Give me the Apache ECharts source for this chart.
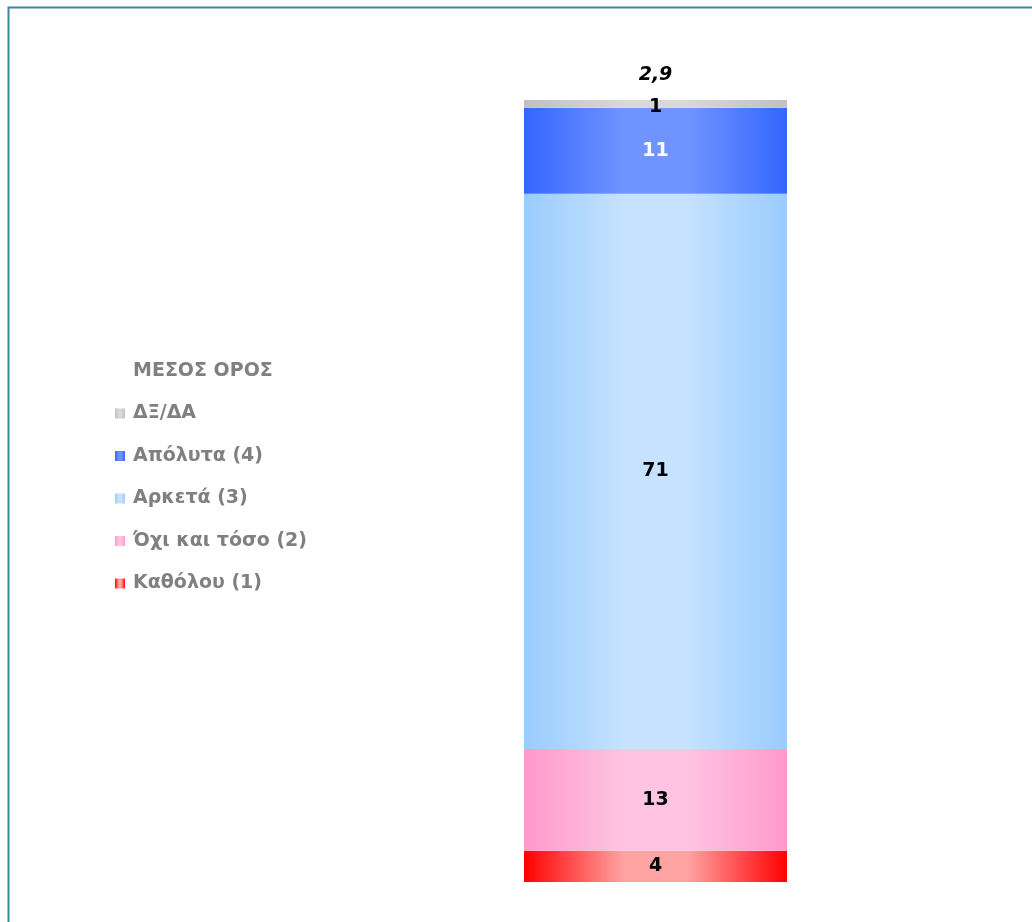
<!DOCTYPE html>
<html>
<head>
<meta charset="utf-8">
<script src="https://cdn.jsdelivr.net/npm/echarts@6/dist/echarts.min.js"></script>
<style>
html,body{margin:0;padding:0;background:#fff;}
#c{width:1032px;height:922px;}
</style>
</head>
<body>
<div id="c"></div>
<script>
const categories = ['Σύνολο'];
const seriesNames = ['Καθόλου (1)', 'Όχι και τόσο (2)', 'Αρκετά (3)', 'Απόλυτα (4)', 'ΔΞ/ΔΑ'];
const values = [[4], [13], [71], [11], [1]];
const meanName = 'ΜΕΣΟΣ ΟΡΟΣ';
const meanLabel = ['2,9'];
const edgeColors = ['#ff0000', '#ff99cc', '#99ccff', '#3366ff', '#c0c0c0'];
const midColors = ['#ffa3a3', '#ffc4e1', '#c6e2ff', '#7094ff', '#d8d8d8'];
const labelColors = ['#000', '#000', '#000', '#fff', '#000'];

const FONT = '"DejaVu Sans", Verdana, sans-serif';

function grad(e, m) {
  return new echarts.graphic.LinearGradient(0, 0, 1, 0, [
    {offset: 0, color: e}, {offset: 0.38, color: m}, {offset: 0.62, color: m}, {offset: 1, color: e}
  ]);
}

const chart = echarts.init(document.getElementById('c'));
const series = seriesNames.map((n, i) => ({
  name: n, type: 'bar', stack: 's', barWidth: 263,
  data: values[i],
  itemStyle: {color: grad(edgeColors[i], midColors[i])},
  label: {show: true, position: 'inside', color: labelColors[i], fontFamily: FONT, fontWeight: 'bold', fontSize: 19,
          offset: i === 4 ? [0, 3] : [0, 0]},
  emphasis: {disabled: true}
}));
series.push({
  name: meanName, type: 'bar', stack: 's', barWidth: 263,
  data: [0], itemStyle: {color: 'rgba(0,0,0,0)'},
  label: {show: true, position: 'top', distance: 15, formatter: () => meanLabel[0], color: '#000',
          fontFamily: FONT, fontWeight: 'bold', fontStyle: 'italic', fontSize: 19}
});

chart.setOption({
  animation: false,
  grid: {left: 524, right: 245, top: 100, bottom: 40},
  xAxis: {type: 'category', data: categories, show: false},
  yAxis: {type: 'value', min: 0, max: 100, show: false},
  legend: {
    orient: 'vertical', left: 110, top: 356, icon: 'rect',
    itemWidth: 10, itemHeight: 10, itemGap: 22.5,
    textStyle: {color: '#808080', fontFamily: FONT, fontWeight: 'bold', fontSize: 19, lineHeight: 20, padding: [0, 0, 0, 3]},
    data: [
      {name: meanName, itemStyle: {opacity: 0}},
      seriesNames[4], seriesNames[3], seriesNames[2], seriesNames[1], seriesNames[0]
    ]
  },
  graphic: [{
    type: 'rect', shape: {x: 8.5, y: 7.5, width: 1200, height: 1200},
    style: {fill: 'none', stroke: '#3a8a9e', lineWidth: 2}, silent: true
  }],
  series: series
});
</script>
</body>
</html>
